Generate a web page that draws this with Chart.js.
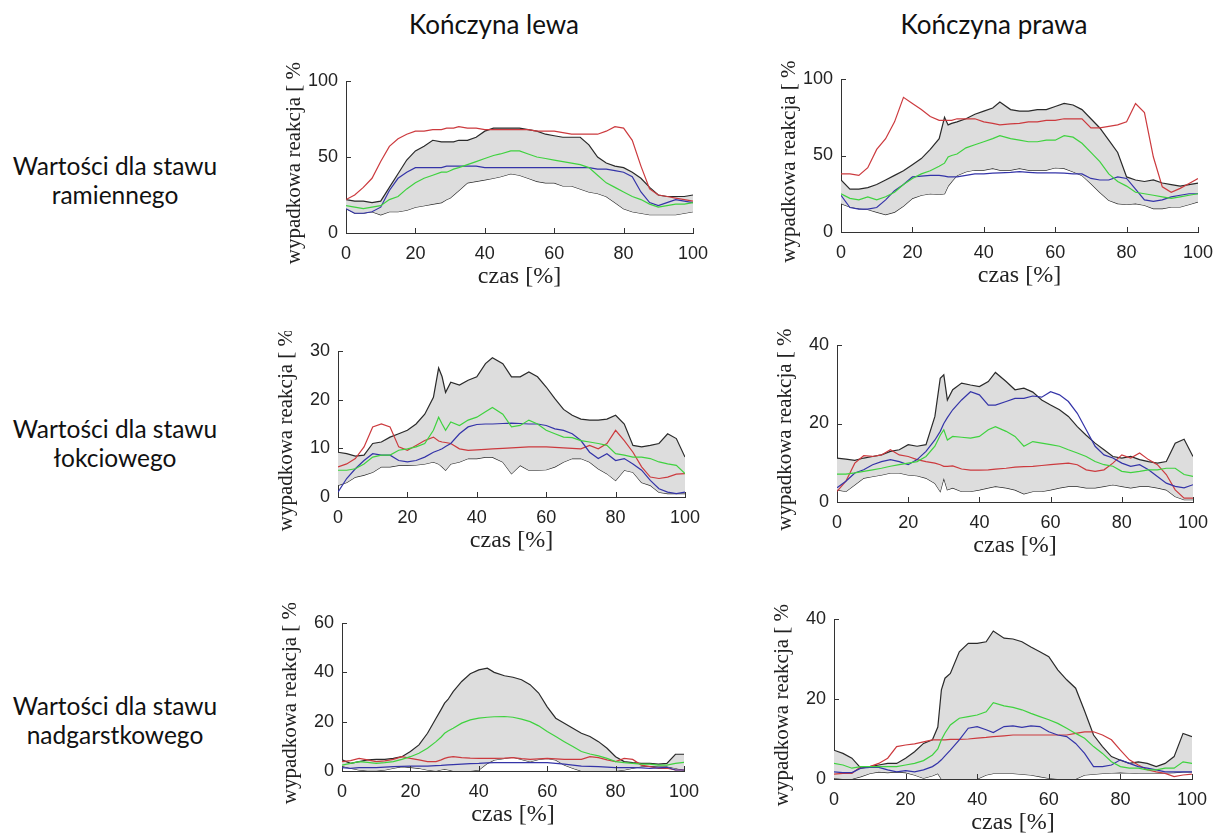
<!DOCTYPE html>
<html>
<head>
<meta charset="utf-8">
<script src="https://cdn.jsdelivr.net/npm/chart.js@4"></script>
<style>
  body { margin: 0; background: #fff; }
  #page { position: relative; width: 1214px; height: 834px; overflow: hidden; background: #fff; }
  .head { position: absolute; width: 300px; text-align: center; font: 26px Lato, sans-serif; line-height: 1.2; color: #111; }
  .row { position: absolute; left: 0; width: 230px; text-align: center; font: 24.5px Lato, sans-serif; line-height: 29px; color: #111; }
  canvas { position: absolute; }
</style>
</head>
<body>
<div id="page">
  <div class="head" style="left:344px;top:9px">Kończyna lewa</div>
  <div class="head" style="left:844px;top:9px">Kończyna prawa</div>
  <div class="row" style="top:151px">Wartości dla stawu<br>ramiennego</div>
  <div class="row" style="top:414px">Wartości dla stawu<br>łokciowego</div>
  <div class="row" style="top:691px">Wartości dla stawu<br>nadgarstkowego</div>
</div>
<script>
// czas [%] - wspolna os x
const czas = [0,2.5,5,7.5,10,12.5,15,17.5,20,22.5,25,27.5,29,30,31,32.5,35,37.5,40,42.5,44.5,47.5,50,52.5,55,57.5,60,62.5,65,67.5,70,72.5,75,77.5,80,82.5,85,87.5,90,92.5,95,97.5,100];

// staw ramienny - lewa
const ramLewaGora = [22,21,21,20,21,30,39,48,54,57,61,60,60,60,60,61,61,63,67,69,69,69,69,68,67,65,64,63,63,63,58,50,46,44,43,40,36,30,25,24,24,24,25];
const ramLewaDol = [16,13,13,14,12,14,14,15,17,18,19,20,22,23,25,28,33,34,35,36,37,39,38,36,34,33,33,31,31,29,27,26,24,20,16,14,13,12,12,12,12,13,14];
const ramLewaZiel = [18,17,16,17,18,22,24,29,33,36,38,40,40,41,42,43,45,47,49,51,52,54,54,52,50,49,48,47,46,45,43,38,33,30,27,24,22,19,17,18,19,19,20];
const ramLewaNieb = [16,13,13,14,17,28,36,40,43,43,43,43,44,44,44,44,44,44,43,43,43,43,43,43,43,43,43,43,43,43,43,42,42,41,40,37,27,20,18,20,22,21,20];
const ramLewaCzer = [22,25,30,36,47,57,62,65,67,67,68,68,69,69,69,70,69,69,68,68,68,68,68,68,67,67,67,66,65,65,65,65,67,70,69,61,44,29,25,24,23,22,21];

// staw ramienny - prawa
const ramPrawaGora = [34,28,28,29,31,34,37,40,44,48,54,61,75,70,71,72,74,77,79,81,85,80,79,79,80,80,82,84,83,80,74,68,60,52,36,34,33,34,32,31,30,31,32];
const ramPrawaDol = [18.6,16.4,15.3,14.7,13,11.4,13,17,22,24,25,24.5,25,30,33,37,39.4,40.5,40.5,41.6,40.5,40.5,41.6,40.5,40.5,40.5,42,41.6,39.4,37,31.7,26,20.8,18.6,18,18.6,17.5,15.3,15.3,16.4,16.4,18,19.7];
const ramPrawaZiel = [25,22,21,23,21,23,26,31,35,38,40,43,45,49,50,51,55,57,59,61,63,61,60,59,59,60,60,63,62,58,52,46,38,33,30,26,25,24,23,22,23,24,25];
const ramPrawaNieb = [24,16,15,15,16,21,27,31,36,36.5,37,37,36.5,36,36,36,37,38,38,38.5,38.7,39,39.4,39,38.7,38.7,38.7,38.5,38,38,35,34,34,36,35,28,21,20,21,23,24,25,25];
const ramPrawaCzer = [38,38,37,42,54,61,72,88,84,80,75.5,73,73,73,73,74,74,74,72,71,70,70.7,71,72,72,73,73,74,74,74,68,68,69,70,72,84,78,49,29.5,26,28.5,31.7,35];

// staw lokciowy - lewa
const lokLewaGora = [9.2,8.9,8.4,8.6,11,11.3,12.3,13,13.7,15,17,20.5,26.5,24.7,21.5,23.6,23,24,24.7,27.4,28.6,27.4,24.7,24.7,25.7,24.7,22.6,20.2,18,16.8,16,15.8,15.8,16,16.8,15,10.6,10.3,10.6,11,13,12,8.2];
const lokLewaDol = [2.4,3,4.1,4.5,5.1,6.2,6.2,6.5,6.5,6.6,6.8,7.2,6.8,6.2,5.5,6.8,7.2,7.9,7.9,8.2,8.2,7.2,4.8,6.5,5.5,5.5,5.6,6.2,7.2,7.9,7.9,7.2,5.8,4.8,3.4,5.5,5.1,3,2.4,1,0.7,0.7,0.7];
const lokLewaZiel = [5.5,5.5,5.8,6.8,8.2,8.6,8.6,9.6,9.9,10.3,11,13.7,16.4,15,13.7,15.4,14.7,15.8,16.4,17.5,18.4,17,14.4,14.7,15.8,15,13.7,13,12.3,12.2,11.6,11.3,11,10.6,8.9,8.6,8.2,8.2,7.9,7.2,6.8,6.5,4.8];
const lokLewaNieb = [1,3.8,5.8,7.5,8.9,8.6,8.6,7.5,7.2,7.5,8.2,9.2,9.6,9.9,10.4,11,13,14.4,14.9,15,15,15.1,15.2,15.1,15,15,14.7,14,13.7,13,11.6,9.2,7.9,8.9,7.5,7.9,6.8,5.5,3.4,1.7,1,0.7,1];
const lokLewaCzer = [6.2,6.8,7.9,10.3,14.4,15,14.4,10.3,9.6,10.6,11.6,12.3,11.5,11.3,11.2,11,9.9,9.6,9.7,9.8,9.9,10,10.1,10.2,10.3,10.3,10.3,10.2,10.1,10,9.9,10.6,9.9,11,13.7,11.6,9.2,6.2,4.1,3.8,4.1,4.7,4.8];

// staw lokciowy - prawa
const lokPrawaGora = [11.2,10.9,10.6,11.2,11.6,12,12.9,13.3,14.6,14.2,14.6,21.8,31.5,32.4,26,28.6,30.3,29.8,29.4,30.7,33,30.7,28.6,29,28,26,24.7,23.5,21.8,19.2,17,15,13.3,11.6,11.2,11.6,10.8,10.3,9.9,10.3,15,16,11.6];
const lokPrawaDol = [3.1,2.7,4.4,6.1,6.5,6.9,7.4,7.4,6.9,6.7,6.1,4.8,2.7,6.1,3.1,3.6,2.7,2.7,3.1,3.6,4,3.6,3.1,2.1,2.7,2.7,3.1,3.6,4,4,3.6,3.6,4,4.4,4,3.6,4,4,3.6,3.1,1.4,0.6,0.6];
const lokPrawaZiel = [7.1,7.1,7.4,7.8,8.2,8.6,9.1,9.5,9.9,10.3,11.6,14.2,17,18.4,15.8,16.7,16.5,16.3,16.7,18.4,19.2,18,16.7,14.2,15.4,15,14.6,14.2,13.3,12.5,11.6,10.3,9.5,9.1,7.8,7.5,7.8,8.2,8.2,8.6,8.6,7,6.5];
const lokPrawaNieb = [3.6,5.3,7.4,8.2,9.5,10.3,10.8,10.3,9.5,10.8,12.9,15.8,18,20,21.5,23.5,26,28.1,27.3,24.7,24.7,25.6,26.4,26.4,27,26.7,28.1,27.3,25.6,22.6,18.4,14.2,12,11.2,9.9,9.1,9.5,8.2,6.5,4.8,4,3.6,4.4];
const lokPrawaCzer = [2.7,5.3,9.9,11.8,11.6,12,13.3,12,11.6,10.8,10.3,9.9,9.5,9.1,9.1,9.2,8.4,8.1,8.1,8.2,8.4,8.6,8.9,9,9.1,9.3,9.5,9.7,9.9,9.5,8.2,7.8,8.2,9.9,12,11.2,12.5,10.8,9.5,7,3.1,1,1];

// staw nadgarstkowy - lewa
const nadLewaGora = [4.5,3.1,3.8,4.5,4.7,4.7,5.1,5.8,7.9,10.6,15.3,21.4,25,27.5,29,32.2,36.3,39.4,41,41.7,40,38.6,38,37,35,31.6,26,21.4,19.4,17.3,15.3,14,11.9,9.2,5.8,3.8,3.4,3.1,3.1,2.8,3.1,6.8,6.8];
const nadLewaDol = [2,1.1,0.4,0.1,0.1,0.4,1.1,1.8,1.5,1.1,0.4,0,0.5,0.7,0.5,0,0,0,0.4,3.1,4.5,5.1,5.6,4.7,3.8,4.7,5.1,4.5,2.4,1.1,0,0,0,0,0,0.4,1.1,1.8,2,1.8,1.8,1.1,0.4];
const nadLewaZiel = [2.4,3.1,3.8,3.5,3.1,3.4,3.8,4.7,5.8,7.2,9.2,11.9,13.8,15.3,16.2,17.3,19.4,20.7,21.4,21.8,22,22.1,21.8,21,20,18.3,16,14,11.9,9.9,7.9,6.9,6.1,5.1,3.8,3.4,3.1,2.8,2.8,2.4,2.4,3.1,3.5];
const nadLewaNieb = [1.4,1.1,1.4,1.4,1.4,1.6,1.8,1.9,2,2,2,2.2,2.3,2.4,2.5,2.6,2.8,3,3.1,3.3,3.4,3.4,3.4,3.4,3.4,3.4,3.4,3.1,2.8,2.4,2,1.9,1.8,1.6,1.4,1.4,1.4,1.3,1.1,1.3,1.5,0.4,0.4];
const nadLewaCzer = [3.8,4.2,5.1,4.5,3.8,4.1,4.7,5.8,5.1,4.5,3.8,3.8,4.5,5.1,5.5,5.8,5.4,5.2,5.1,5.1,5.1,5.2,5.4,5,4.7,4.9,5.1,4.9,4.7,4.7,4.7,5.8,5.4,4.5,3.8,5.1,4.7,2.4,1.8,1.1,1.1,0.4,0.4];

// staw nadgarstkowy - prawa
const nadPrawaGora = [7.2,6.4,5.2,2.7,3.1,3.5,3.9,3.9,5.2,6.8,8.9,9.8,13,22.3,25.2,26.4,31.8,33.9,33.9,34.3,37,35.2,35,34.3,33,31.8,30.6,27.3,24.8,22.7,17,11,8.1,5.6,4.7,3.9,4.3,3.9,3.1,3.9,5.6,11.4,10.6];
const nadPrawaDol = [0.2,0,0,0.6,1.4,1.8,1.6,1.8,1.6,1,0.2,0.8,1.4,0,0,0,0,0,0,1,1.4,1.4,1.4,1.2,1,0.6,0.2,0,0,0,1,1.2,1.4,1.5,1.6,1.5,1.4,1.4,1.4,1.5,1.6,1.8,1.8];
const nadPrawaZiel = [3.9,3.5,2.7,3.1,3.1,3.1,3.1,3.1,3.5,3.9,4.6,6,7.5,9.8,11.5,13.5,15.2,15.6,16,16.8,19.1,18.3,17.9,17.3,16.4,15.6,14.8,13.9,12.7,11.4,10.2,8.1,6.4,4.3,3.1,2.7,2.7,2.3,2.3,2.7,2.7,4.3,3.9];
const nadPrawaNieb = [1.8,1.6,1.6,2.7,2.9,2.9,2.3,1.8,2.1,1.8,2.3,3.1,4,4.8,5.8,7.2,9.8,12.7,13.1,12.3,11.6,13.1,13.3,12.9,13.3,13.1,11.8,11,10.6,8.9,6.4,3.1,3.1,3.5,4.8,3.9,3.1,2.7,2.3,1.8,1.8,1.8,1.8];
const nadPrawaCzer = [1.2,1.4,1.4,3.1,3.1,3.9,5.2,8.1,8.5,8.8,9.3,9.8,9.8,9.8,9.8,9.9,9.9,10,10.2,10.4,10.6,10.8,11,11,11,11,11,11,11,11.4,11.8,11.8,11,9.8,7.2,4.8,3.5,2.3,1.8,1.4,0.6,1,1.2];

// skale osi y
const yMax = [100, 100, 30, 40, 60, 40];
const yStep = [50, 50, 10, 20, 20, 20];

// polozenie obszaru wykresu na stronie (left, top, right, bottom)
const panels = [
  {box: [346, 81, 693, 233], data: [ramLewaGora, ramLewaDol, ramLewaZiel, ramLewaNieb, ramLewaCzer]},
  {box: [841, 79, 1198, 232], data: [ramPrawaGora, ramPrawaDol, ramPrawaZiel, ramPrawaNieb, ramPrawaCzer]},
  {box: [338, 351, 685, 497], data: [lokLewaGora, lokLewaDol, lokLewaZiel, lokLewaNieb, lokLewaCzer]},
  {box: [837, 345, 1193, 502], data: [lokPrawaGora, lokPrawaDol, lokPrawaZiel, lokPrawaNieb, lokPrawaCzer]},
  {box: [342, 623, 684, 771], data: [nadLewaGora, nadLewaDol, nadLewaZiel, nadLewaNieb, nadLewaCzer]},
  {box: [834, 619, 1192, 779], data: [nadPrawaGora, nadPrawaDol, nadPrawaZiel, nadPrawaNieb, nadPrawaCzer]}
];

const YW = 64, XH = 58, PT = 20, PR = 28;
const tickFont = {family: '"Liberation Sans", Arial, sans-serif', size: 18};
const titleFont = {family: '"Liberation Serif", "Times New Roman", serif', size: 24};
const yTitleFont = {family: '"Liberation Serif", "Times New Roman", serif', size: 21};

function pts(vals) {
  return czas.map((x, i) => ({x: x, y: vals[i]}));
}

// male kreski osi skierowane do srodka (jak w matlabie)
const innerTicks = {
  id: 'innerTicks',
  afterDraw(chart) {
    const {ctx, chartArea, scales} = chart;
    ctx.save();
    ctx.strokeStyle = '#333';
    ctx.lineWidth = 1;
    ctx.beginPath();
    scales.x.ticks.forEach(t => {
      if (t.value === 0) return;
      const px = Math.round(scales.x.getPixelForValue(t.value)) + 0.5;
      ctx.moveTo(px, chartArea.bottom);
      ctx.lineTo(px, chartArea.bottom - 5);
    });
    scales.y.ticks.forEach(t => {
      if (t.value === 0) return;
      const py = Math.round(scales.y.getPixelForValue(t.value)) + 0.5;
      ctx.moveTo(chartArea.left, py);
      ctx.lineTo(chartArea.left + 5, py);
    });
    ctx.stroke();
    ctx.restore();
  }
};

function makePanel(p, idx) {
  const [l, t, r, b] = p.box;
  const w = YW + (r - l) + PR, h = PT + (b - t) + XH;
  const canvas = document.createElement('canvas');
  canvas.width = w;
  canvas.height = h;
  canvas.style.left = (l - YW) + 'px';
  canvas.style.top = (t - PT) + 'px';
  canvas.style.width = w + 'px';
  canvas.style.height = h + 'px';
  document.getElementById('page').appendChild(canvas);

  const [gora, dol, ziel, nieb, czer] = p.data;
  const line = (vals, color) => ({
    data: pts(vals), borderColor: color, borderWidth: 1.2, pointRadius: 0, fill: false, order: 1
  });

  new Chart(canvas, {
    type: 'line',
    data: {
      datasets: [
        line(ziel, '#3fd23f'),
        line(nieb, '#3434a8'),
        line(czer, '#cc3a3e'),
        {data: pts(gora), borderColor: '#2a2a2a', borderWidth: 1.2, pointRadius: 0,
         fill: '+1', backgroundColor: '#dddddd', order: 2},
        {data: pts(dol), borderColor: '#2a2a2a', borderWidth: 1.2, pointRadius: 0, fill: false, order: 2}
      ]
    },
    options: {
      responsive: false,
      animation: false,
      layout: {padding: {top: PT, right: PR, left: 0, bottom: 0}},
      plugins: {legend: {display: false}, tooltip: {enabled: false}},
      scales: {
        x: {
          type: 'linear', min: 0, max: 100,
          ticks: {stepSize: 20, font: tickFont, color: '#222', padding: 10, maxRotation: 0},
          grid: {display: false, drawTicks: false},
          border: {display: true, color: '#333', width: 1},
          title: {display: true, text: 'czas [%]', font: titleFont, color: '#222', padding: 0},
          afterFit: s => { s.height = XH; }
        },
        y: {
          min: 0, max: yMax[idx],
          ticks: {stepSize: yStep[idx], font: tickFont, color: '#222', padding: 8},
          grid: {display: false, drawTicks: false},
          border: {display: true, color: '#333', width: 1},
          title: {display: true, text: 'wypadkowa reakcja [ % ]', font: yTitleFont, color: '#222', padding: 0},
          afterFit: s => { s.width = YW; }
        }
      }
    },
    plugins: [innerTicks]
  });
}

panels.forEach(makePanel);
</script>
</body>
</html>
